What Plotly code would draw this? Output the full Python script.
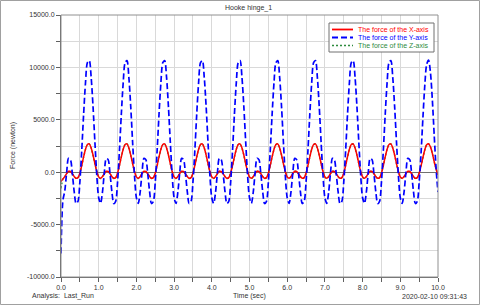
import plotly.graph_objects as go

# ---------------- data ----------------
STEP = 0.05
N_POINTS = 201
TIME = [round(i * STEP, 2) for i in range(N_POINTS)]

FORCE_X = [
    -900, -640, -420, -120, 90, 70, -140, -410, -580, -520, -90, 640, 1460, 2190, 2640, 2700, 2310, 1630, 810, 60,
    -450, -580, -410, -120, 90, 70, -140, -410, -580, -520, -90, 640, 1460, 2190, 2640, 2700, 2310, 1630, 810, 60,
    -450, -580, -410, -120, 90, 70, -140, -410, -580, -520, -90, 640, 1460, 2190, 2640, 2700, 2310, 1630, 810, 60,
    -450, -580, -410, -120, 90, 70, -140, -410, -580, -520, -90, 640, 1460, 2190, 2640, 2700, 2310, 1630, 810, 60,
    -450, -580, -410, -120, 90, 70, -140, -410, -580, -520, -90, 640, 1460, 2190, 2640, 2700, 2310, 1630, 810, 60,
    -450, -580, -410, -120, 90, 70, -140, -410, -580, -520, -90, 640, 1460, 2190, 2640, 2700, 2310, 1630, 810, 60,
    -450, -580, -410, -120, 90, 70, -140, -410, -580, -520, -90, 640, 1460, 2190, 2640, 2700, 2310, 1630, 810, 60,
    -450, -580, -410, -120, 90, 70, -140, -410, -580, -520, -90, 640, 1460, 2190, 2640, 2700, 2310, 1630, 810, 60,
    -450, -580, -410, -120, 90, 70, -140, -410, -580, -520, -90, 640, 1460, 2190, 2640, 2700, 2310, 1630, 810, 60,
    -450, -580, -410, -120, 90, 70, -140, -410, -580, -520, -90, 600, 1400, 2150, 2620, 2720, 2420, 1800, 1000, 300,
    -250,
]

FORCE_Y = [
    -7750, -2700, -1800, -10, 1320, 1200, -120, -1860, -2990, -2780, -950, 2070, 5530, 8550, 10450, 10650, 9050, 6230, 2820, -340,
    -2440, -2970, -1890, -10, 1320, 1200, -120, -1860, -2990, -2780, -950, 2070, 5530, 8550, 10450, 10650, 9050, 6230, 2820, -340,
    -2440, -2970, -1890, -10, 1320, 1200, -120, -1860, -2990, -2780, -950, 2070, 5530, 8550, 10450, 10650, 9050, 6230, 2820, -340,
    -2440, -2970, -1890, -10, 1320, 1200, -120, -1860, -2990, -2780, -950, 2070, 5530, 8550, 10450, 10650, 9050, 6230, 2820, -340,
    -2440, -2970, -1890, -10, 1320, 1200, -120, -1860, -2990, -2780, -950, 2070, 5530, 8550, 10450, 10650, 9050, 6230, 2820, -340,
    -2440, -2970, -1890, -10, 1320, 1200, -120, -1860, -2990, -2780, -950, 2070, 5530, 8550, 10450, 10650, 9050, 6230, 2820, -340,
    -2440, -2970, -1890, -10, 1320, 1200, -120, -1860, -2990, -2780, -950, 2070, 5530, 8550, 10450, 10650, 9050, 6230, 2820, -340,
    -2440, -2970, -1890, -10, 1320, 1200, -120, -1860, -2990, -2780, -950, 2070, 5530, 8550, 10450, 10650, 9050, 6230, 2820, -340,
    -2440, -2970, -1890, -10, 1320, 1200, -120, -1860, -2990, -2780, -950, 2070, 5530, 8550, 10450, 10650, 9050, 6230, 2820, -340,
    -2440, -2970, -1890, -10, 1320, 1200, -120, -1860, -2990, -2780, -950, 1800, 5200, 8300, 10300, 10700, 9500, 6900, 3500, 300,
    -1900,
]

FORCE_Z = [
    -1550, -680, -430, -130, 80, 60, -150, -420, -600, -540, -100, 630, 1450, 2180, 2630, 2690, 2300, 1620, 800, 50,
    -470, -600, -430, -130, 80, 60, -150, -420, -600, -540, -100, 630, 1450, 2180, 2630, 2690, 2300, 1620, 800, 50,
    -470, -600, -430, -130, 80, 60, -150, -420, -600, -540, -100, 630, 1450, 2180, 2630, 2690, 2300, 1620, 800, 50,
    -470, -600, -430, -130, 80, 60, -150, -420, -600, -540, -100, 630, 1450, 2180, 2630, 2690, 2300, 1620, 800, 50,
    -470, -600, -430, -130, 80, 60, -150, -420, -600, -540, -100, 630, 1450, 2180, 2630, 2690, 2300, 1620, 800, 50,
    -470, -600, -430, -130, 80, 60, -150, -420, -600, -540, -100, 630, 1450, 2180, 2630, 2690, 2300, 1620, 800, 50,
    -470, -600, -430, -130, 80, 60, -150, -420, -600, -540, -100, 630, 1450, 2180, 2630, 2690, 2300, 1620, 800, 50,
    -470, -600, -430, -130, 80, 60, -150, -420, -600, -540, -100, 630, 1450, 2180, 2630, 2690, 2300, 1620, 800, 50,
    -470, -600, -430, -130, 80, 60, -150, -420, -600, -540, -100, 630, 1450, 2180, 2630, 2690, 2300, 1620, 800, 50,
    -470, -600, -430, -130, 80, 60, -150, -420, -600, -540, -100, 590, 1390, 2140, 2610, 2710, 2410, 1790, 990, 290,
    -260,
]

SERIES_NAMES = ["The force of the X-axis", "The force of the Y-axis", "The force of the Z-axis"]
X_TICK_VALUES = [0, 1, 2, 3, 4, 5, 6, 7, 8, 9, 10]
X_TICK_LABELS = ["0.0", "1.0", "2.0", "3.0", "4.0", "5.0", "6.0", "7.0", "8.0", "9.0", "10.0"]
Y_TICK_VALUES = [-10000, -5000, 0, 5000, 10000, 15000]
Y_TICK_LABELS = ["-10000.0", "-5000.0", "0.0", "5000.0", "10000.0", "15000.0"]

TITLE = "Hooke hinge_1"
X_TITLE = "Time (sec)"
Y_TITLE = "Force (newton)"
ANALYSIS = "Analysis:  Last_Run"
STAMP = "2020-02-10 09:31:43"

# ---------------- styling / layout ----------------
W, H = 480, 305
ML, MR, MT, MB = 61, 42, 15, 28
PW, PH = W - ML - MR, H - MT - MB
FONT = "Liberation Sans, Arial, sans-serif"
TXT = "#333333"
RED, BLUE, GREEN = "#ff0000", "#0000ff", "#2e8b3e"


def px(xp):
    return (xp - ML) / PW


def py(yp):
    return (H - MB - yp) / PH


fig = go.Figure()
fig.add_trace(go.Scatter(x=TIME, y=FORCE_Z, mode="lines", name=SERIES_NAMES[2],
                         line=dict(color=GREEN, width=1.4, dash="2px,2px", shape="spline", smoothing=0.8)))
fig.add_trace(go.Scatter(x=TIME, y=FORCE_X, mode="lines", name=SERIES_NAMES[0],
                         line=dict(color=RED, width=1.5, shape="spline", smoothing=0.8)))
fig.add_trace(go.Scatter(x=TIME, y=FORCE_Y, mode="lines", name=SERIES_NAMES[1],
                         line=dict(color=BLUE, width=1.7, dash="6px,3px", shape="spline", smoothing=0.8)))

axis_common = dict(
    showline=True, linecolor="#606060", linewidth=1,
    ticks="outside", ticklen=4, tickcolor="#606060",
    showgrid=True, gridcolor="#d9d9d9", gridwidth=1,
    tickfont=dict(family=FONT, size=7, color=TXT),
)

fig.update_xaxes(range=[0, 10], tickvals=X_TICK_VALUES, ticktext=X_TICK_LABELS,
                 zeroline=False,
                 minor=dict(dtick=0.5, tick0=0, ticks="outside", ticklen=4, tickcolor="#606060",
                            showgrid=True, gridcolor="#d9d9d9"),
                 **axis_common)
fig.update_yaxes(range=[-10000, 15000], tickvals=Y_TICK_VALUES, ticktext=Y_TICK_LABELS,
                 zeroline=True, zerolinecolor="#707070", zerolinewidth=1,
                 minor=dict(dtick=2500, tick0=0, ticks="outside", ticklen=4, tickcolor="#606060",
                            showgrid=True, gridcolor="#d9d9d9"),
                 **axis_common)

shapes = [
    # plot frame
    dict(type="rect", xref="paper", yref="paper", x0=0, y0=0, x1=1, y1=1,
         line=dict(color="#909090", width=1)),
    # outer image frame
    dict(type="rect", xref="paper", yref="paper", x0=px(0.5), y0=py(H - 0.5), x1=px(W - 0.5), y1=py(0.5),
         line=dict(color="#a0a0a0", width=1)),
    # legend box
    dict(type="rect", xref="paper", yref="paper", x0=px(329), y0=py(52), x1=px(434), y1=py(23),
         line=dict(color="#707070", width=1), fillcolor="white"),
]

legend_rows = [29.5, 37.5, 45.5]
legend_styles = [(RED, "solid", 1.8), (BLUE, "6px,3px", 1.8), (GREEN, "2px,2px", 1.5)]
annotations = []
for name, yrow, (col, dash, wid) in zip(SERIES_NAMES, legend_rows, legend_styles):
    shapes.append(dict(type="line", xref="paper", yref="paper", x0=px(332), x1=px(353),
                       y0=py(yrow), y1=py(yrow), line=dict(color=col, width=wid, dash=dash)))
    annotations.append(dict(xref="paper", yref="paper", x=px(356), y=py(yrow), text=name,
                            showarrow=False, xanchor="left", yanchor="middle",
                            font=dict(family=FONT, size=7, color=col)))

annotations += [
    dict(xref="paper", yref="paper", x=px(248), y=py(8), text=TITLE, showarrow=False,
         xanchor="center", yanchor="middle", font=dict(family=FONT, size=7, color=TXT)),
    dict(xref="paper", yref="paper", x=px(13), y=py(146), text=Y_TITLE, showarrow=False, textangle=-90,
         xanchor="center", yanchor="middle", font=dict(family=FONT, size=7, color=TXT)),
    dict(xref="paper", yref="paper", x=px(249), y=py(296), text=X_TITLE, showarrow=False,
         xanchor="center", yanchor="middle", font=dict(family=FONT, size=7, color=TXT)),
    dict(xref="paper", yref="paper", x=px(30), y=py(296), text=ANALYSIS, showarrow=False,
         xanchor="left", yanchor="middle", font=dict(family=FONT, size=7, color=TXT)),
    dict(xref="paper", yref="paper", x=px(469), y=py(296), text=STAMP, showarrow=False,
         xanchor="right", yanchor="middle", font=dict(family=FONT, size=7, color=TXT)),
]

fig.update_layout(
    width=W, height=H, autosize=False,
    margin=dict(l=ML, r=MR, t=MT, b=MB, pad=0),
    paper_bgcolor="white", plot_bgcolor="white",
    showlegend=False,
    shapes=shapes, annotations=annotations,
    font=dict(family=FONT, size=7, color=TXT),
)

fig.write_html("out.html",
               config={"displayModeBar": False},
               post_script="document.body.style.margin='0';document.body.style.overflow='hidden';")
